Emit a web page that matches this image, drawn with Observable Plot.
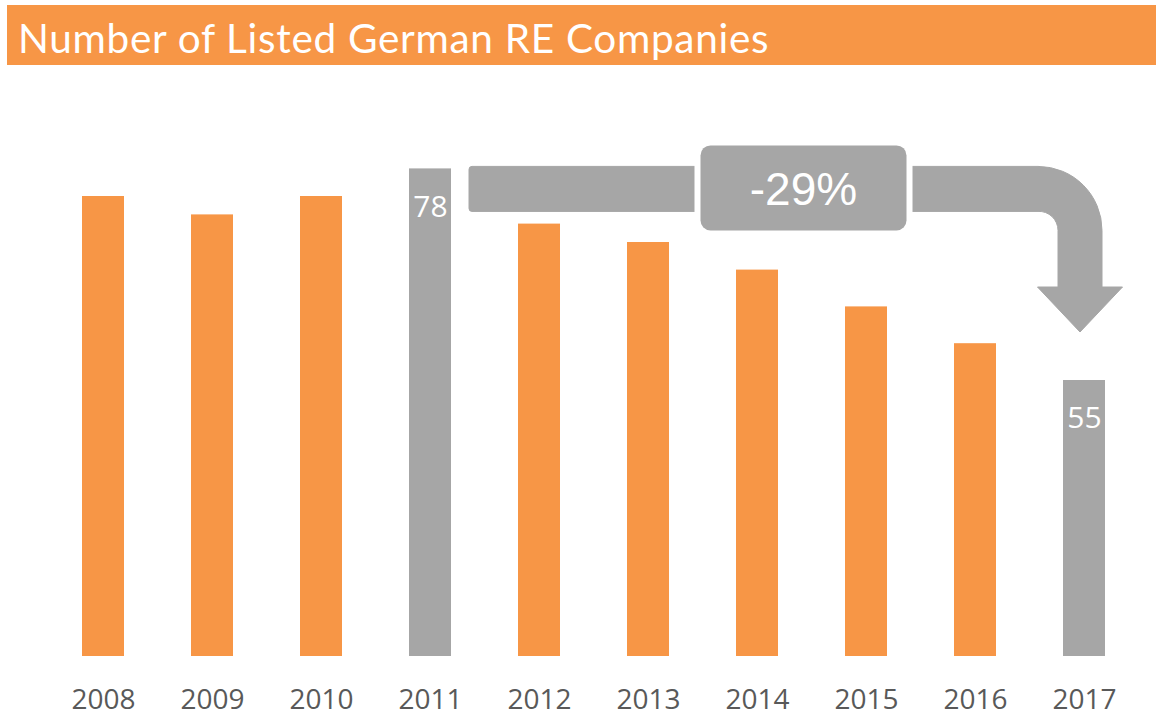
<!DOCTYPE html>
<html>
<head>
<meta charset="utf-8">
<script src="https://cdn.jsdelivr.net/npm/d3@7"></script>
<script src="https://cdn.jsdelivr.net/npm/@observablehq/plot@0.6"></script>
<style>
  html, body { margin: 0; padding: 0; background: #fff; overflow: hidden; }
  #title {
    margin: 5px 0 0 7px;
    height: 60px;
    background: #F79646;
    color: #fff;
    font-family: Lato, sans-serif;
    font-size: 40.5px;
    letter-spacing: 0.7px;
    line-height: 60px;
    padding: 3px 0 0 11px;
    box-sizing: border-box;
    white-space: nowrap;
  }
</style>
</head>
<body>
<div id="title">Number of Listed German RE Companies</div>
<div id="chart"></div>
<script>
// ---- data ----
const years = ["2008", "2009", "2010", "2011", "2012", "2013", "2014", "2015", "2016", "2017"];
const counts = [75, 73, 75, 78, 72, 70, 67, 63, 59, 55];
const labelledYears = ["2011", "2017"];
const changeLabel = "-29%";
const yDomain = [25, 85];

const ORANGE = "#F79646";
const GRAY = "#A6A6A6";

const data = years.map((year, i) => ({
  year,
  count: counts[i],
  highlight: labelledYears.includes(year)
}));

// custom annotation: curved arrow from the 2011 bar to the 2017 bar with a change box
function arrowMark(index, scales, values, dimensions) {
  const x = scales.x, y = scales.y;
  const bw = x.bandwidth();
  const NS = "http://www.w3.org/2000/svg";
  const g = document.createElementNS(NS, "g");
  const x0 = x(labelledYears[0]) + bw + 18;          // band start
  const yT = y(counts[3]) - 2;                        // band top
  const bandH = 45;
  const yB = yT + bandH;
  const sc = x(labelledYears[1]) + bw / 2 - 4;        // stem centre
  const half = 22;
  const xo = sc + half, xi = sc - half;
  const R = 64, r = R - bandH;
  const cx = xo - R, cy = yT + R;
  const yEnd = y(counts[9]) - 93;                     // arrow-head base
  const yTip = y(counts[9]) - 48;
  const headHalf = 42.5;
  const d = [
    `M${x0 + 3},${yT}`,
    `L${cx},${yT}`,
    `A${R},${R} 0 0 1 ${xo},${cy}`,
    `L${xo},${yEnd}`,
    `L${sc + headHalf},${yEnd}`,
    `L${sc},${yTip}`,
    `L${sc - headHalf},${yEnd}`,
    `L${xi},${yEnd}`,
    `L${xi},${cy}`,
    `A${r},${r} 0 0 0 ${cx},${yB}`,
    `L${x0 + 3},${yB}`,
    `Q${x0},${yB} ${x0},${yB - 3}`,
    `L${x0},${yT + 3}`,
    `Q${x0},${yT} ${x0 + 3},${yT}`,
    "Z"
  ].join(" ");
  const path = document.createElementNS(NS, "path");
  path.setAttribute("d", d);
  path.setAttribute("fill", GRAY);
  path.setAttribute("stroke", GRAY);
  path.setAttribute("stroke-width", "1");
  path.setAttribute("stroke-linejoin", "round");
  g.appendChild(path);

  // change box
  const bxC = (x(years[6]) + x(years[7])) / 2 + bw / 2 - 8;
  const bW = 206, bH = 85;
  const byT = yT - 21;
  const gap = document.createElementNS(NS, "rect");
  gap.setAttribute("x", bxC - bW / 2 - 6);
  gap.setAttribute("y", byT - 6);
  gap.setAttribute("width", bW + 12);
  gap.setAttribute("height", bH + 12);
  gap.setAttribute("rx", 14);
  gap.setAttribute("fill", "#fff");
  g.appendChild(gap);
  const box = document.createElementNS(NS, "rect");
  box.setAttribute("x", bxC - bW / 2);
  box.setAttribute("y", byT);
  box.setAttribute("width", bW);
  box.setAttribute("height", bH);
  box.setAttribute("rx", 10);
  box.setAttribute("fill", GRAY);
  g.appendChild(box);
  const t = document.createElementNS(NS, "text");
  t.setAttribute("x", bxC);
  t.setAttribute("y", byT + 60);
  t.setAttribute("text-anchor", "middle");
  t.setAttribute("fill", "#fff");
  t.setAttribute("font-family", "Liberation Sans, Arial, sans-serif");
  t.setAttribute("font-size", "46");
  t.textContent = changeLabel;
  g.appendChild(t);
  return g;
}

const chart = Plot.plot({
  width: 1156,
  height: 653,
  marginLeft: 80,
  marginRight: 50,
  marginTop: 39,
  marginBottom: 62,
  style: { background: "#fff", fontFamily: "'Open Sans', sans-serif" },
  x: { domain: years, paddingInner: 0.616, paddingOuter: 0, label: null },
  y: { domain: yDomain, axis: null },
  marks: [
    Plot.barY(data, {
      x: "year",
      y: "count",
      fill: d => d.highlight ? GRAY : ORANGE,
      clip: true
    }),
    Plot.text(data.filter(d => d.highlight), {
      x: "year",
      y: "count",
      text: d => String(d.count),
      fill: "#fff",
      fontSize: 30,
      dy: 38
    }),
    Plot.axisX({
      tickSize: 0,
      tickPadding: 33,
      fontSize: 28,
      fill: "#595959",
      label: null
    }),
    arrowMark
  ]
});
document.getElementById("chart").appendChild(chart);
</script>
</body>
</html>
